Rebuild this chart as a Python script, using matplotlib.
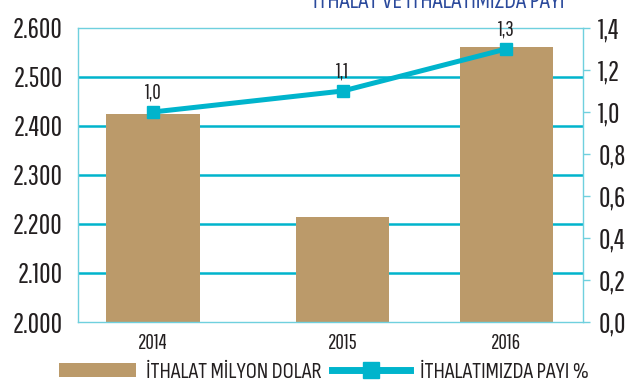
import matplotlib

matplotlib.use("Agg")
import matplotlib.pyplot as plt
from matplotlib.lines import Line2D
from matplotlib.patches import Patch

NUM_FONT = ["Pathway Gothic One", "Sofia Sans Extra Condensed", "DejaVu Sans"]
TXT_FONT = ["Sofia Sans Condensed", "Roboto Condensed", "DejaVu Sans"]
plt.rcParams["font.family"] = NUM_FONT

years = ["2014", "2015", "2016"]
imports_musd = [2424, 2214, 2561]
share_pct = [1.0, 1.1, 1.3]
share_labels = ["1,0", "1,1", "1,3"]
left_ticks = [2000, 2100, 2200, 2300, 2400, 2500, 2600]
left_ticklabels = ["2.000", "2.100", "2.200", "2.300", "2.400", "2.500", "2.600"]
right_ticks = [0.0, 0.2, 0.4, 0.6, 0.8, 1.0, 1.2, 1.4]
right_ticklabels = ["0,0", "0,2", "0,4", "0,6", "0,8", "1,0", "1,2", "1,4"]

BAR = "#bb9a6a"
CYAN = "#00b4cc"
FRAME = "#6fd0de"
TEXT = "#231f20"

# slot centres along x (the last two years sit a little closer together)
xpos = [0.0, 1.0, 1.86]

fig = plt.figure(figsize=(6.41, 3.86), dpi=100)
ax = fig.add_axes([0.1217, 0.1658, 0.7878, 0.7617])
ax.set_xlim(-0.395, 2.265)
ax.set_ylim(left_ticks[0], left_ticks[-1])

for y in left_ticks[1:-1]:
    ax.axhline(y, color=CYAN, lw=1.8, zorder=1)
ax.bar(xpos, imports_musd, width=0.49, color=BAR, zorder=2)

ax.set_yticks(left_ticks)
ax.set_yticklabels(left_ticklabels, fontsize=20, color=TEXT)
ax.set_xticks(xpos)
ax.set_xticklabels(years, fontsize=15, color=TEXT)
ax.tick_params(axis="x", length=0, pad=8)
ax.tick_params(axis="y", length=0, pad=11)
for side in ax.spines.values():
    side.set_color(FRAME)
    side.set_linewidth(1.0)

ax2 = ax.twinx()
ax2.set_ylim(right_ticks[0], right_ticks[-1])
ax2.plot(xpos, share_pct, color=CYAN, lw=3.6, marker="s", markersize=9, zorder=3)
for x, v, lab in zip(xpos, share_pct, share_labels):
    ax2.annotate(lab, (x, v), xytext=(0, 7), textcoords="offset points",
                 ha="center", va="bottom", fontsize=15, color=TEXT)
ax2.set_yticks(right_ticks)
ax2.set_yticklabels(right_ticklabels, fontsize=20, color=TEXT)
ax2.tick_params(axis="y", length=5, width=1, color=FRAME, pad=6)
for side in ax2.spines.values():
    side.set_visible(False)

fig.text(0.685, 0.979, "İTHALAT VE İTHALATIMIZDA PAYI", ha="center", va="baseline",
         fontsize=17, color="#2b4a9c", family=TXT_FONT)

handles = [
    Patch(facecolor=BAR, edgecolor="none"),
    Line2D([], [], color=CYAN, lw=5, marker="s", markersize=12),
]
fig.legend(handles, ["İTHALAT MİLYON DOLAR", "İTHALATIMIZDA PAYI %"],
           loc="center", bbox_to_anchor=(0.505, 0.036), ncol=2, frameon=False,
           handlelength=3.5, handleheight=0.6, columnspacing=0.45,
           handletextpad=0.45, labelcolor=TEXT,
           prop={"family": TXT_FONT, "size": 16})

fig.savefig("out.png", dpi=100)
